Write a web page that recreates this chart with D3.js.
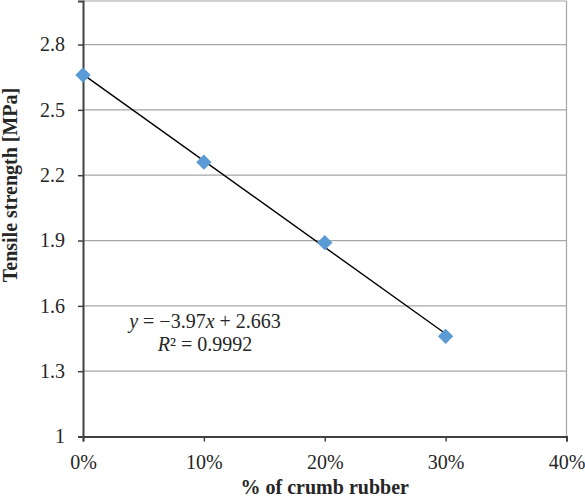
<!DOCTYPE html>
<html><head><meta charset="utf-8">
<script src="https://cdn.jsdelivr.net/npm/d3@7"></script>
<style>
html,body{margin:0;padding:0;background:#fff;}
svg{display:block;}
</style></head>
<body>
<svg id="chart" width="585" height="498"></svg>
<script>
const crumbRubber = [0, 0.10, 0.20, 0.30];
const tensileStrength = [2.66, 2.26, 1.89, 1.46];
const xTicks = [0, 0.1, 0.2, 0.3, 0.4];
const yTicks = [1, 1.3, 1.6, 1.9, 2.2, 2.5, 2.8];
const trendSlope = -3.97, trendIntercept = 2.663;
const trendRange = [0, 0.3];
const equationParts = [["y", true], [" = \u22123.97", false], ["x", true], [" + 2.663", false]];
const r2Parts = [["R", true], ["\u00B2 = 0.9992", false]];
const xTitle = "% of crumb rubber";
const yTitle = "Tensile strength [MPa]";

const FONT = '"Liberation Serif"';
const FS = "20px";
const svg = d3.select("#chart");
const L = 83, R = 566.5, T = 1, B = 436.5;
const x = d3.scaleLinear().domain([0, 0.4]).range([L, R]);
const y = d3.scaleLinear().domain([1, 3]).range([B, T]);

svg.append("g").selectAll("line").data(yTicks.filter(d => d > 1)).join("line")
  .attr("x1", L).attr("x2", R).attr("y1", d => y(d)).attr("y2", d => y(d))
  .attr("stroke", "#a6a6a6").attr("stroke-width", 1.2);
svg.append("line").attr("x1", L).attr("x2", R).attr("y1", y(3)).attr("y2", y(3))
  .attr("stroke", "#a6a6a6").attr("stroke-width", 1.2);
svg.append("line").attr("x1", R).attr("x2", R).attr("y1", T).attr("y2", B)
  .attr("stroke", "#a6a6a6").attr("stroke-width", 1.2);

const fmtPct = d3.format(".0%");
const xAxis = svg.append("g").attr("transform", `translate(0,${B})`)
  .call(d3.axisBottom(x).tickValues(xTicks).tickFormat(fmtPct).tickSize(5).tickPadding(14));
const yAxis = svg.append("g").attr("transform", `translate(${L},0)`)
  .call(d3.axisLeft(y).tickValues(yTicks).tickFormat(d3.format("")).tickSize(5).tickPadding(14));
[xAxis, yAxis].forEach(g => {
  g.attr("font-family", null).attr("font-size", null);
  g.select(".domain").attr("stroke", "#404040").attr("stroke-width", 2);
  g.selectAll(".tick line").attr("stroke", "#404040").attr("stroke-width", 1.5);
  g.selectAll(".tick text").style("font-family", FONT).style("font-size", FS).attr("fill", "#262626");
});
xAxis.selectAll(".tick text").attr("dy", "0.71em").attr("y", 18);
yAxis.selectAll(".tick text").attr("x", -18);

svg.append("line")
  .attr("x1", x(trendRange[0])).attr("y1", y(trendSlope * trendRange[0] + trendIntercept))
  .attr("x2", x(trendRange[1])).attr("y2", y(trendSlope * trendRange[1] + trendIntercept))
  .attr("stroke", "#000").attr("stroke-width", 1.4);

const data = crumbRubber.map((c, i) => ({c, v: tensileStrength[i]}));
svg.append("g").selectAll("path").data(data).join("path")
  .attr("d", d3.symbol(d3.symbolDiamond2, 150)())
  .attr("transform", d => `translate(${x(d.c)},${y(d.v)})`)
  .attr("fill", "#5b9bd5");

function txt(xp, yp) {
  return svg.append("text").attr("x", xp).attr("y", yp).attr("fill", "#262626")
    .style("font-family", FONT).style("font-size", FS);
}
function parts(t, arr) {
  arr.forEach(([s, it]) => t.append("tspan").style("font-style", it ? "italic" : "normal").text(s));
}
parts(txt(205, 328).attr("text-anchor", "middle"), equationParts);
parts(txt(205, 351).attr("text-anchor", "middle"), r2Parts);

txt((L + R) / 2, 494).attr("text-anchor", "middle").style("font-weight", "bold").text(xTitle);
txt(0, 0).attr("x", null).attr("y", null)
  .attr("transform", `translate(17,185) rotate(-90)`).attr("text-anchor", "middle")
  .style("font-weight", "bold").text(yTitle);
</script>
</body></html>
